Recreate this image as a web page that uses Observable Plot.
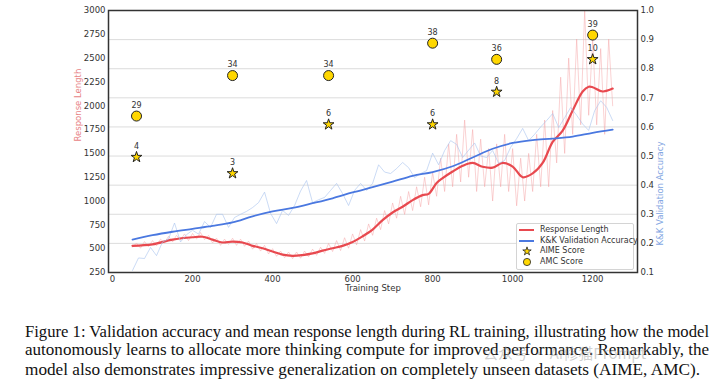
<!DOCTYPE html>
<html><head><meta charset="utf-8">
<script src="https://cdn.jsdelivr.net/npm/d3@7"></script>
<script src="https://cdn.jsdelivr.net/npm/@observablehq/plot@0.6"></script>
<style>
body{margin:0;background:#fff;}
#wrap{position:relative;width:720px;height:385px;overflow:hidden;font-family:"DejaVu Sans",sans-serif;background:#fff;}
#chart{position:absolute;left:0;top:0;}
.cap{position:absolute;left:25px;font-family:"Liberation Serif","Times New Roman",serif;font-size:17px;line-height:19px;color:#111;white-space:nowrap;transform-origin:0 0;}
#legend{position:absolute;left:516px;top:223px;width:116px;height:45px;border:1px solid #d4d4d4;border-radius:2px;background:rgba(255,255,255,0.85);font-size:8px;color:#333;}
.li{position:absolute;left:0;height:10px;width:116px;}
.li svg{position:absolute;left:1px;top:0;}
.li span{position:absolute;left:23px;top:0;line-height:10px;white-space:nowrap;}
#wm{position:absolute;left:483px;top:342px;font-family:"Noto Sans CJK SC",sans-serif;font-size:15px;color:rgba(150,150,150,0.45);white-space:nowrap;}
</style></head>
<body>
<div id="wrap">
  <div id="chart"></div>
  <div id="legend"></div>
  <div class="cap" id="c1" style="top:322px">Figure 1: Validation accuracy and mean response length during RL training, illustrating how the model</div>
  <div class="cap" id="c2" style="top:340px">autonomously learns to allocate more thinking compute for improved performance. Remarkably, the</div>
  <div class="cap" id="c3" style="top:360px">model also demonstrates impressive generalization on completely unseen datasets (AIME, AMC).</div>
  <div id="wm">公众号 · AI修猫Prompt</div>
</div>
<script>
// ---------- data ----------
const xTicks = [0, 200, 400, 600, 800, 1000, 1200];
const lenTicks = [250, 500, 750, 1000, 1250, 1500, 1750, 2000, 2250, 2500, 2750, 3000];
const accTicks = [0.1, 0.2, 0.3, 0.4, 0.5, 0.6, 0.7, 0.8, 0.9, 1.0];

// raw response length, logged every 10 steps from 50 to 1250
const respRawSteps = d3.range(50, 1251, 10);
const respRaw = [
  515, 560, 505, 575, 520, 585, 530, 600, 560, 630,
  570, 640, 590, 655, 585, 660, 600, 670, 595, 640,
  560, 610, 535, 600, 545, 610, 535, 600, 525, 580,
  495, 555, 475, 535, 445, 500, 420, 475, 405, 465,
  395, 465, 400, 475, 415, 495, 430, 515, 450, 555,
  470, 585, 480, 615, 505, 655, 540, 700, 580, 760,
  640, 820, 700, 900, 760, 980, 820, 1050, 860, 1100,
  900, 1150, 940, 1250, 960, 1300, 1050, 1450, 1100, 1600,
  1150, 1700, 1200, 1850, 1250, 1750, 1100, 1650, 1150, 1550,
  1000, 1600, 1150, 1700, 1100, 1550, 950, 1450, 1000, 1500,
  1100, 1700, 1150, 1850, 1150, 1950, 1400, 2300, 1500, 2500,
  1700, 2700, 1800, 3000, 1900, 2700, 1800, 2600, 1700, 2700,
  2000
];
// smoothed response length
const respSmoothSteps = [50,100,150,200,225,250,275,300,325,350,375,400,425,450,475,500,525,550,575,600,625,650,675,700,725,750,775,790,810,825,850,875,900,925,950,975,1000,1025,1050,1075,1100,1125,1150,1175,1190,1200,1225,1250];
const respSmooth = [530,545,595,620,625,595,565,575,565,530,505,470,437,425,433,450,480,505,530,570,630,700,800,880,940,1010,1062,1075,1190,1240,1310,1370,1400,1360,1350,1400,1362,1250,1290,1400,1620,1740,1950,2150,2200,2195,2150,2180];

// raw K&K validation accuracy, evaluated every 15 steps from 50 to 1250
const accRawSteps = d3.range(50, 1251, 15);
const accRaw = [
  0.107, 0.150, 0.148, 0.186, 0.158, 0.205, 0.215, 0.270, 0.205, 0.230,
  0.245, 0.232, 0.275, 0.255, 0.300, 0.300, 0.255, 0.289, 0.300, 0.310,
  0.323, 0.340, 0.376, 0.303, 0.268, 0.313, 0.296, 0.330, 0.380, 0.416,
  0.340, 0.350, 0.358, 0.382, 0.406, 0.371, 0.330, 0.382, 0.406, 0.382,
  0.406, 0.470, 0.445, 0.440, 0.457, 0.478, 0.460, 0.426, 0.440, 0.450,
  0.510, 0.470, 0.519, 0.553, 0.540, 0.495, 0.520, 0.545, 0.500, 0.495,
  0.519, 0.475, 0.485, 0.530, 0.560, 0.595, 0.553, 0.575, 0.600, 0.622,
  0.646, 0.598, 0.632, 0.667, 0.640, 0.610, 0.588, 0.656, 0.690, 0.667,
  0.622
];
// smoothed accuracy
const accSmoothSteps = [50,100,150,200,250,300,350,400,450,500,550,600,650,700,750,800,850,900,950,1000,1050,1100,1150,1200,1250];
const accSmooth = [0.213,0.228,0.240,0.250,0.260,0.272,0.293,0.310,0.322,0.338,0.355,0.375,0.393,0.412,0.432,0.445,0.465,0.495,0.525,0.545,0.555,0.560,0.567,0.580,0.591];

// benchmark evaluations
const evalSteps = [60, 300, 540, 800, 960, 1200];
const aimeScores = [4, 3, 6, 6, 8, 10];
const amcScores = [29, 34, 34, 38, 36, 39];

const legendItems = ["Response Length", "K&K Validation Accuracy", "AIME Score", "AMC Score"];

// ---------- twin-axis mappings onto the left (response length) scale ----------
const accToLen = a => 250 + (a - 0.1) / 0.9 * 2750;
const lenToAcc = v => 0.1 + (v - 250) / 2750 * 0.9;
const aimeToLen = s => 777 + 171 * s;   // hidden AIME score axis
const amcToLen = s => -573 + 85 * s;    // hidden AMC score axis

const RED = "#e8494f", PINK = "#f4a3a6", BLUE = "#4a78e0", LBLUE = "#a8c2ee", GOLD = "#ffd700";

const chart = Plot.plot({
  width: 720, height: 300,
  marginLeft: 108, marginRight: 83, marginTop: 10, marginBottom: 28,
  style: {fontFamily: "DejaVu Sans, sans-serif", fontSize: "8px", color: "#333", background: "transparent"},
  x: {domain: [-10, 1312], axis: null},
  y: {domain: [250, 3000], axis: null},
  marks: [
    Plot.ruleY(accTicks.map(accToLen), {stroke: "#dcdcdc", strokeWidth: 1}),
    Plot.line(respRaw, {x: (d, i) => respRawSteps[i], y: d => d, stroke: PINK, strokeWidth: 0.7, strokeOpacity: 0.7}),
    Plot.line(respSmooth, {x: (d, i) => respSmoothSteps[i], y: d => d, stroke: RED, strokeWidth: 2.2, curve: "catmull-rom"}),
    Plot.line(accRaw, {x: (d, i) => accRawSteps[i], y: d => accToLen(d), stroke: LBLUE, strokeWidth: 0.8, strokeOpacity: 0.75}),
    Plot.line(accSmooth, {x: (d, i) => accSmoothSteps[i], y: d => accToLen(d), stroke: BLUE, strokeWidth: 1.8, curve: "catmull-rom"}),
    Plot.dot(evalSteps, {x: d => d, y: (d, i) => amcToLen(amcScores[i]), r: 5, fill: GOLD, stroke: "#222", strokeWidth: 1}),
    Plot.dot(evalSteps, {x: d => d, y: (d, i) => aimeToLen(aimeScores[i]), r: 3.4, symbol: "star", fill: GOLD, stroke: "#222", strokeWidth: 1}),
    Plot.text(evalSteps, {x: d => d, y: (d, i) => amcToLen(amcScores[i]), text: (d, i) => String(amcScores[i]), dy: -11, fontSize: 8, fill: "#333"}),
    Plot.text(evalSteps, {x: d => d, y: (d, i) => aimeToLen(aimeScores[i]), text: (d, i) => String(aimeScores[i]), dy: -11, fontSize: 8, fill: "#333"}),
    Plot.frame({stroke: "#333", strokeWidth: 1.5}),
    Plot.axisX(xTicks, {anchor: "bottom", tickSize: 0, tickPadding: 3, label: null, fontSize: 8.5, fill: "#333", tickFormat: d3.format("d")}),
    Plot.axisY(lenTicks, {anchor: "left", tickSize: 0, tickPadding: 3, label: null, fontSize: 8.5, fill: "#333", tickFormat: d3.format("d")}),
    Plot.axisY(accTicks.map(accToLen), {anchor: "right", tickSize: 0, tickPadding: 3, label: null, fontSize: 8.5, fill: "#333", tickFormat: v => lenToAcc(v).toFixed(1)}),
    Plot.text(["Response Length"], {frameAnchor: "left", dx: -30, rotate: -90, fill: "#e88486", fontSize: 8.5}),
    Plot.text(["K&K Validation Accuracy"], {frameAnchor: "right", dx: 23, rotate: -90, fill: "#7fa5e2", fontSize: 8.5}),
    Plot.text(["Training Step"], {frameAnchor: "bottom", dy: 18, fill: "#333", fontSize: 8.5})
  ]
});
document.getElementById("chart").appendChild(chart);

// ---------- legend ----------
const leg = document.getElementById("legend");
const rowTops = [1, 12, 22, 33];
legendItems.forEach((name, i) => {
  const row = document.createElement("div");
  row.className = "li";
  row.style.top = rowTops[i] + "px";
  let sw = "";
  if (i === 0) sw = `<line x1="1" x2="16" y1="5" y2="5" stroke="${RED}" stroke-width="2"/>`;
  if (i === 1) sw = `<line x1="1" x2="16" y1="5" y2="5" stroke="${BLUE}" stroke-width="2"/>`;
  if (i === 2) sw = `<path transform="translate(9,5.3)" d="${d3.symbol(d3.symbolStar, 22)()}" fill="${GOLD}" stroke="#222" stroke-width="0.8"/>`;
  if (i === 3) sw = `<circle cx="9" cy="5" r="3.6" fill="${GOLD}" stroke="#222" stroke-width="0.8"/>`;
  row.innerHTML = `<svg width="18" height="10">${sw}</svg><span>${name}</span>`;
  leg.appendChild(row);
});

// ---------- caption: fit each line to the justified block width ----------
["c1", "c2", "c3"].forEach((id, i) => {
  const el = document.getElementById(id);
  const w = el.getBoundingClientRect().width;
  const target = i < 2 ? 684 : 675;
  el.style.transform = `scaleX(${target / w})`;
});
</script>
</body></html>
